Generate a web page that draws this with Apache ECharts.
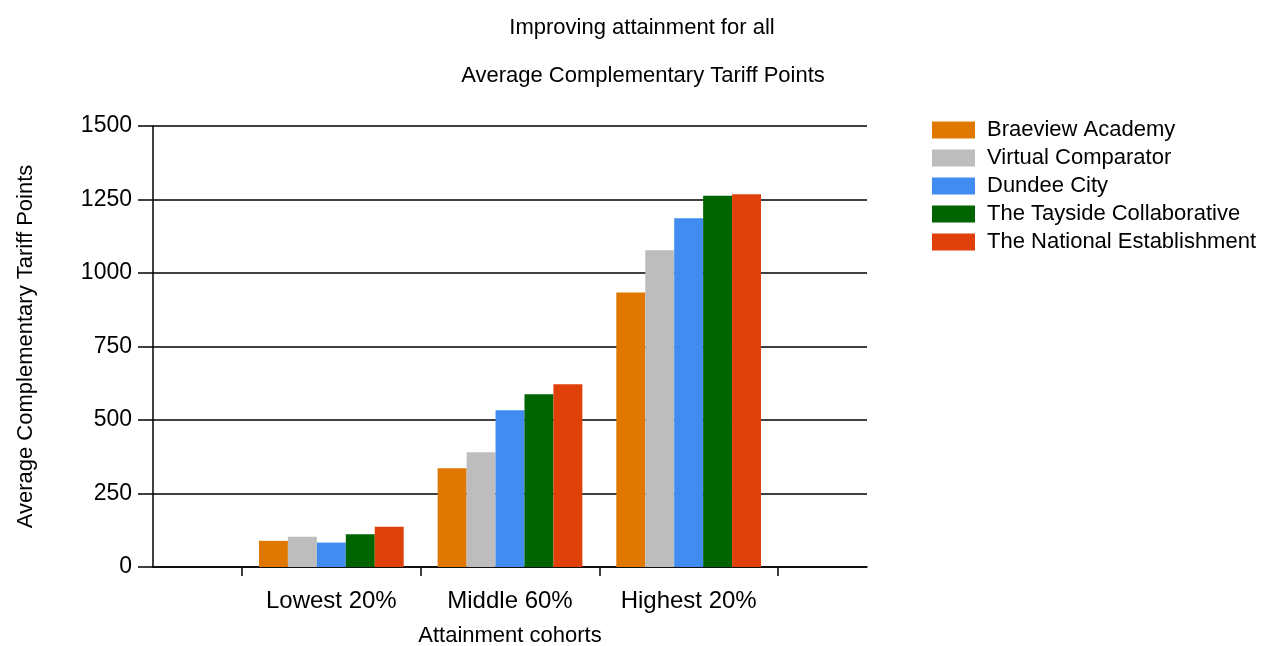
<!DOCTYPE html>
<html>
<head>
<meta charset="utf-8">
<script src="https://cdn.jsdelivr.net/npm/echarts@6/dist/echarts.min.js"></script>
<style>html,body{margin:0;padding:0;background:#fff}#c{width:1276px;height:646px}</style>
</head>
<body>
<div id="c"></div>
<script>
var categories = ['Lowest 20%', 'Middle 60%', 'Highest 20%'];
var seriesNames = ['Braeview Academy', 'Virtual Comparator', 'Dundee City', 'The Tayside Collaborative', 'The National Establishment'];
var braeview = [89, 336, 934];
var virtualComparator = [103, 390, 1077];
var dundee = [83, 533, 1186];
var tayside = [111, 588, 1263];
var national = [137, 622, 1268];
var colors = ['#E07800', '#BDBDBD', '#418CF0', '#006400', '#E0400A'];
var yMin = 0, yMax = 1500, yStep = 250;

var FONT = '"Liberation Sans", Arial, sans-serif';
var values = [braeview, virtualComparator, dundee, tayside, national];
var chart = echarts.init(document.getElementById('c'), null, {renderer: 'canvas'});
var option = {
  backgroundColor: '#fff',
  animation: false,
  color: colors,
  textStyle: {fontFamily: FONT, color: '#000'},
  title: [
    {text: 'Improving attainment for all', left: 642, top: 17, textAlign: 'center', padding: 0,
     textStyle: {fontSize: 22, fontWeight: 'normal', color: '#000', fontFamily: FONT}},
    {text: 'Average Complementary Tariff Points', left: 643, top: 65, textAlign: 'center', padding: 0,
     textStyle: {fontSize: 22, fontWeight: 'normal', color: '#000', fontFamily: FONT}}
  ],
  legend: {
    orient: 'vertical', left: 932, top: 119, icon: 'rect', padding: 0,
    itemWidth: 43, itemHeight: 17, itemGap: 6,
    textStyle: {fontSize: 22, color: '#000', fontFamily: FONT, padding: [0, 0, 0, 7]},
    data: seriesNames
  },
  grid: [
    {left: 153, right: 409, top: 126, bottom: 79, containLabel: false, outerBoundsMode: 'none'},
    {left: 242, right: 498, top: 126, bottom: 79, containLabel: false, outerBoundsMode: 'none'}
  ],
  xAxis: [
    {gridIndex: 0, type: 'value', min: 0, max: 1, position: 'bottom',
     axisLine: {show: true, onZero: false, lineStyle: {color: '#000', width: 1.5}},
     axisTick: {show: false}, axisLabel: {show: false}, splitLine: {show: false}},
    {gridIndex: 1, type: 'category', data: categories, position: 'bottom',
     axisLine: {show: false},
     axisTick: {show: true, length: 9, lineStyle: {color: '#000', width: 1.5}},
     axisLabel: {fontSize: 24, color: '#000', margin: 22, fontFamily: FONT},
     name: 'Attainment cohorts', nameLocation: 'middle', nameGap: 58,
     nameTextStyle: {fontSize: 22, color: '#000', fontFamily: FONT}}
  ],
  yAxis: [
    {gridIndex: 0, type: 'value', min: yMin, max: yMax, interval: yStep,
     axisLine: {show: true, lineStyle: {color: '#000', width: 1.5}},
     axisTick: {show: true, length: 15, lineStyle: {color: '#000', width: 1.5}},
     axisLabel: {fontSize: 23, color: '#000', margin: 21, fontFamily: FONT,
       formatter: function (v) { return String(v); }},
     splitLine: {show: true, lineStyle: {color: '#000', width: 1.5}},
     name: 'Average Complementary Tariff Points', nameLocation: 'middle', nameRotate: 90, nameGap: 116,
     nameTextStyle: {fontSize: 22, color: '#000', fontFamily: FONT}},
    {gridIndex: 1, type: 'value', min: yMin, max: yMax, interval: yStep, show: false, splitLine: {show: false}}
  ],
  series: seriesNames.map(function (n, i) {
    return {
      name: n, type: 'bar', xAxisIndex: 1, yAxisIndex: 1,
      data: values[i], barGap: '0%', barCategoryGap: '19%',
      itemStyle: {color: colors[i]}
    };
  })
};
chart.setOption(option);
</script>
</body>
</html>
